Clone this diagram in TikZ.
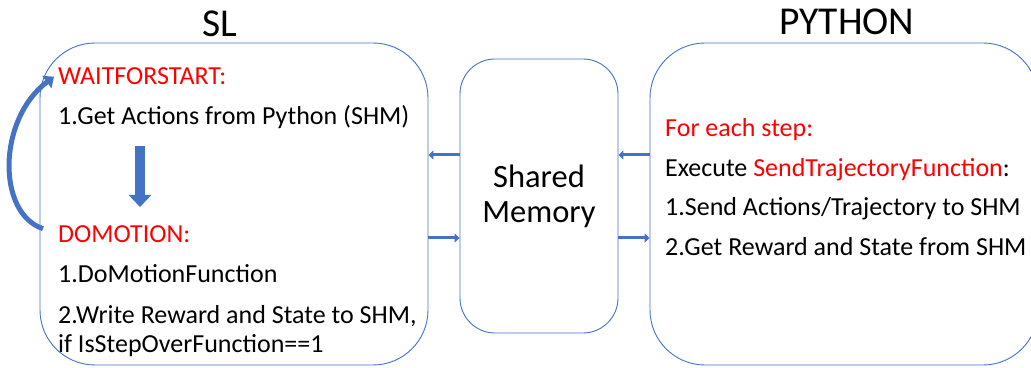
\documentclass[tikz,border=0pt]{standalone}
\usepackage{fontspec}
\setmainfont{Carlito}
\usetikzlibrary{arrows.meta}
\definecolor{officeblue}{HTML}{4472C4}
\definecolor{labelred}{HTML}{FF0000}

\begin{document}
\begin{tikzpicture}[x=1pt, y=1pt, line cap=round, line join=round,
    panel/.style={draw=officeblue, line width=0.9pt, rounded corners=55pt,
      minimum width=388pt, minimum height=322pt, inner sep=0pt},
    memo/.style={draw=officeblue, line width=0.9pt, rounded corners=35pt,
      minimum width=158pt, minimum height=274pt, align=center,
      font=\fontsize{32.5}{35}\selectfont},
    txt/.style={anchor=base west, inner sep=0pt, font=\fontsize{26}{30}\selectfont},
    hot/.style={txt, text=labelred},
    title/.style={anchor=base, inner sep=0pt, font=\fontsize{39.5}{42}\selectfont},
    link/.style={draw=officeblue, line width=3pt, line cap=butt,
      -{Triangle[length=5pt,width=9pt]}},
    drop/.style={draw=officeblue, line width=10pt, line cap=butt,
      -{Triangle[length=12pt,width=22pt]}},
    loopback/.style={draw=officeblue, line width=5pt, line cap=butt,
      -{Triangle[length=9pt,width=15pt]}}]
  \useasboundingbox (0,0) rectangle (1031,367);
  \clip (0,0) rectangle (1031,367);
  % three boxes
  \node[panel] (sl) at (234,163) {};
  \node[memo] (shm) at (539,171) {Shared\\Memory};
  \node[panel] (py) at (844,163) {};
  \node[title] (sltitle) at (220,330) {SL};
  \node[title] (pytitle) at (847,332) {PYTHON};
  % SL side
  \node[hot] (wait) at (58,282) {WAITFORSTART:};
  \node[txt] (get) at (58,242) {1.Get Actions from Python (SHM)};
  \node[hot] (domotion) at (58,124) {DOMOTION:};
  \node[txt] (domove) at (58,84) {1.DoMotionFunction};
  \node[txt] (write) at (58,44) {2.Write Reward and State to SHM,};
  \node[txt] (ifover) at (58,15) {if IsStepOverFunction==1};
  \coordinate (dtop) at (140,221);
  \coordinate (dtip) at (140,160);
  \draw[drop] (dtop) -- (dtip);
  \draw[loopback] ([shift={(-15pt,6pt)}]domotion.west)
    .. controls +(-46,15) and +(-57,-43) .. ([xshift=-4pt]wait.west);
  % PYTHON side
  \node[hot] (foreach) at (665,230) {For each step:};
  \node[txt] (execute) at (665,190) {Execute {\color{labelred}SendTrajectoryFunction}:};
  \node[txt] (send) at (665,151) {1.Send Actions/Trajectory to SHM};
  \node[txt] (reward) at (665,111) {2.Get Reward and State from SHM};
  % links through shared memory
  \coordinate (upper) at (0,212);
  \coordinate (lower) at (0,129);
  \draw[link] (shm.west |- upper) -- (sl.east |- upper);
  \draw[link] (sl.east |- lower) -- (shm.west |- lower);
  \draw[link] (py.west |- upper) -- (shm.east |- upper);
  \draw[link] (shm.east |- lower) -- (py.west |- lower);
\end{tikzpicture}
\end{document}
